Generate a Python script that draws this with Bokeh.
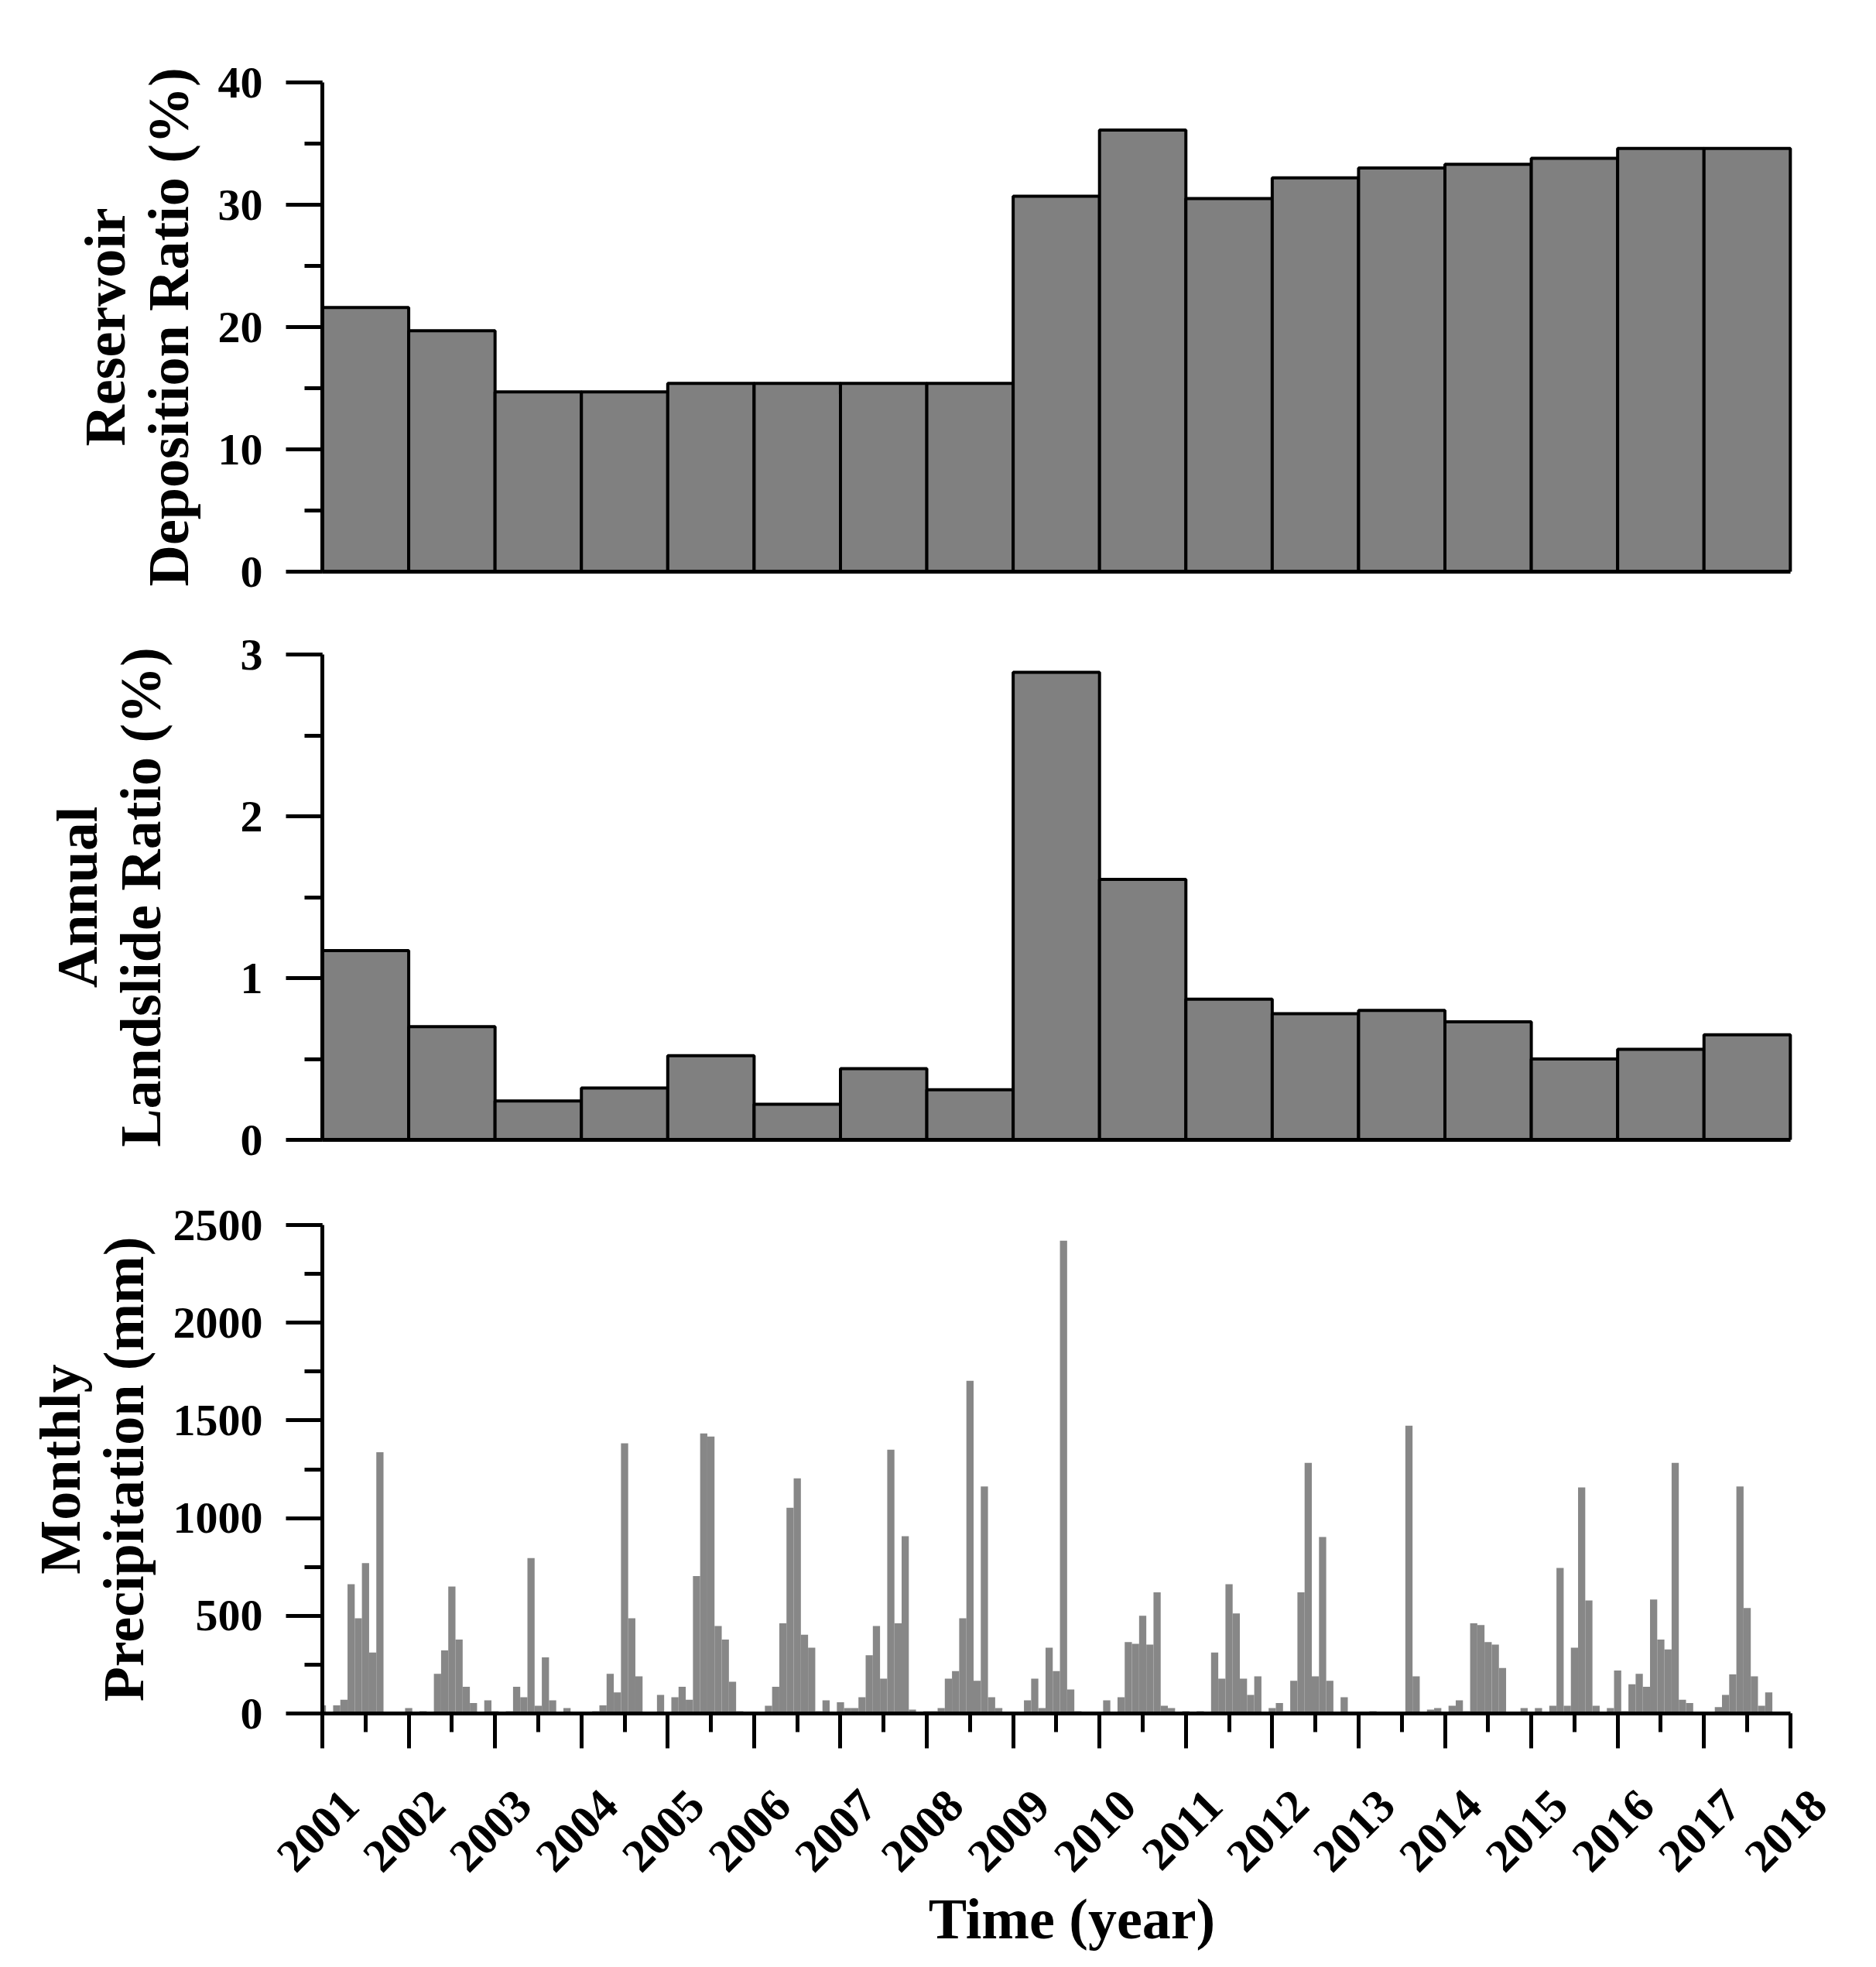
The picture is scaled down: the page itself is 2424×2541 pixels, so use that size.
import math
from bokeh.plotting import figure
from bokeh.layouts import column
from bokeh.models import (SingleIntervalTicker, FixedTicker, Range1d, ColumnDataSource,
                          LinearAxis)
from bokeh.embed import file_html
from bokeh.resources import INLINE

# ---------------- data ----------------
years = list(range(2001, 2018))
tick_years = list(range(2001, 2019))
deposition_ratio = [21.6, 19.7, 14.7, 14.7, 15.4, 15.4, 15.4, 15.4, 30.7, 36.1,
                    30.5, 32.2, 33.0, 33.3, 33.8, 34.6, 34.6]
landslide_ratio = [1.17, 0.70, 0.24, 0.32, 0.52, 0.22, 0.44, 0.31, 2.89, 1.61,
                   0.87, 0.78, 0.80, 0.73, 0.50, 0.56, 0.65]

# monthly precipitation (mm), Jan..Dec
precip_2001 = [42, 2, 42, 70, 662, 487, 770, 312, 1337, 2, 2, 2]
precip_2002 = [28, 2, 12, 2, 203, 323, 650, 378, 137, 53, 2, 67]
precip_2003 = [12, 2, 12, 137, 83, 795, 40, 287, 67, 3, 28, 5]
precip_2004 = [8, 10, 12, 42, 203, 108, 1383, 487, 190, 3, 3, 95]
precip_2005 = [3, 83, 137, 70, 703, 1433, 1417, 448, 378, 162, 12, 5]
precip_2006 = [5, 8, 40, 137, 462, 1053, 1203, 403, 337, 12, 67, 3]
precip_2007 = [57, 28, 28, 83, 298, 448, 178, 1350, 462, 907, 20, 5]
precip_2008 = [12, 12, 28, 178, 217, 487, 1703, 167, 1162, 83, 28, 5]
precip_2009 = [3, 5, 67, 178, 28, 337, 217, 2420, 123, 12, 5, 8]
precip_2010 = [10, 67, 3, 83, 365, 357, 500, 353, 620, 40, 28, 5]
precip_2011 = [12, 5, 12, 5, 312, 178, 662, 512, 178, 95, 190, 5]
precip_2012 = [28, 53, 12, 167, 620, 1283, 190, 903, 167, 3, 83, 5]
precip_2013 = [5, 8, 12, 5, 3, 3, 3, 1473, 190, 5, 20, 28]
precip_2014 = [8, 40, 67, 12, 462, 453, 365, 353, 233, 3, 3, 28]
precip_2015 = [5, 28, 5, 40, 745, 40, 337, 1157, 578, 40, 5, 28]
precip_2016 = [220, 12, 150, 203, 137, 583, 378, 328, 1283, 70, 53, 3]
precip_2017 = [3, 5, 33, 95, 200, 1162, 540, 190, 40, 108, 5, 3]

precip_by_year = [precip_2001, precip_2002, precip_2003, precip_2004, precip_2005,
                  precip_2006, precip_2007, precip_2008, precip_2009, precip_2010,
                  precip_2011, precip_2012, precip_2013, precip_2014, precip_2015,
                  precip_2016, precip_2017]

month_x, month_p = [], []
for y, vals in zip(years, precip_by_year):
    for m, v in enumerate(vals):
        month_x.append(y + m / 12.0)
        month_p.append(v)

# ---------------- styling ----------------
FONT = "Liberation Serif"
X0, X1 = 2001, 2018
X_PAD = 0.36                     # room right of 2018 for the last rotated label anchor
YEAR_PX = 1897 / 17.0
FRAME_W = int(round(YEAR_PX * (X1 - X0 + X_PAD)))
LEFT = 416
RIGHT = 60
LABEL_SHIFT = 0.33               # rotated labels are anchored at their right end


def base_axes(p, ylabel, y_interval, title_standoff):
    p.outline_line_color = None
    p.grid.visible = False
    p.background_fill_color = "white"
    p.border_fill_color = "white"
    for ax in p.axis:
        ax.axis_line_width = 5
        ax.axis_line_color = "black"
        ax.major_tick_line_width = 5
        ax.minor_tick_line_width = 5
        ax.major_tick_in = 0
        ax.minor_tick_in = 0
        ax.major_label_text_font = FONT
        ax.major_label_text_font_style = "bold"
        ax.major_label_text_font_size = "58px"
        ax.major_label_text_color = "black"
        ax.axis_label_text_font = FONT
        ax.axis_label_text_font_style = "bold"
        ax.axis_label_text_font_size = "74px"
        ax.axis_label_text_color = "black"
        ax.axis_label_text_line_height = 1.0
    ya = p.yaxis[0]
    ya.ticker = SingleIntervalTicker(interval=y_interval, num_minor_ticks=2)
    ya.major_tick_out = 47
    ya.minor_tick_out = 23
    ya.major_label_standoff = 30
    ya.axis_label = ylabel
    ya.axis_label_standoff = title_standoff
    xa = p.xaxis[0]
    xa.bounds = (X0, X1)


def hide_x(ax):
    ax.ticker = FixedTicker(ticks=[])
    ax.major_tick_out = 0
    ax.minor_tick_out = 0
    ax.major_label_text_color = None
    ax.major_label_standoff = 0


x_range = Range1d(X0, X1 + X_PAD)

# ---- top: reservoir deposition ratio ----
p1 = figure(x_range=x_range, y_range=Range1d(0, 40), frame_width=FRAME_W, frame_height=632,
            min_border_left=LEFT, min_border_right=RIGHT, min_border_top=106, min_border_bottom=50,
            output_backend="svg", toolbar_location=None)
src1 = ColumnDataSource(dict(left=years, right=[y + 1 for y in years], top=deposition_ratio))
p1.quad(left="left", right="right", bottom=0, top="top", source=src1,
        fill_color="#808080", line_color="black", line_width=4)
base_axes(p1, "Reservoir\nDeposition Ratio (%)", 10, 20)
hide_x(p1.xaxis[0])

# ---- middle: annual landslide ratio ----
p2 = figure(x_range=x_range, y_range=Range1d(0, 3), frame_width=FRAME_W, frame_height=627,
            min_border_left=LEFT, min_border_right=RIGHT, min_border_top=57, min_border_bottom=50,
            output_backend="svg", toolbar_location=None)
src2 = ColumnDataSource(dict(left=years, right=[y + 1 for y in years], top=landslide_ratio))
p2.quad(left="left", right="right", bottom=0, top="top", source=src2,
        fill_color="#808080", line_color="black", line_width=4)
base_axes(p2, "Annual\nLandslide Ratio (%)", 1, 85)
hide_x(p2.xaxis[0])

# ---- bottom: monthly precipitation ----
p3 = figure(x_range=x_range, y_range=Range1d(0, 2500), frame_width=FRAME_W, frame_height=631,
            min_border_left=LEFT, min_border_right=RIGHT, min_border_top=60, min_border_bottom=300,
            output_backend="svg", toolbar_location=None)
p3.extra_x_ranges = {"labels": Range1d(X0 - LABEL_SHIFT, X1 + X_PAD - LABEL_SHIFT)}
src3 = ColumnDataSource(dict(x=month_x, top=month_p))
p3.vbar(x="x", width=1 / 12.0, bottom=0, top="top", source=src3,
        fill_color="#878787", line_color=None)

lab_axis = LinearAxis(x_range_name="labels", ticker=FixedTicker(ticks=tick_years))
p3.add_layout(lab_axis, "below")
title_axis = LinearAxis()
p3.add_layout(title_axis, "below")
base_axes(p3, "Monthly\nPrecipitation (mm)", 500, 20)

# tick marks (no labels) on the main axis
xa = p3.xaxis[0]
xa.ticker = SingleIntervalTicker(interval=1, num_minor_ticks=2)
xa.major_tick_out = 45
xa.minor_tick_out = 24
xa.major_label_text_color = None
xa.major_label_text_font_size = "1px"
xa.major_label_standoff = 0

# year labels axis, rotated
lab_axis.bounds = "auto"
lab_axis.axis_line_color = None
lab_axis.major_tick_line_color = None
lab_axis.minor_tick_line_color = None
lab_axis.major_tick_out = 0
lab_axis.minor_tick_out = 0
lab_axis.major_label_orientation = math.pi / 4
lab_axis.major_label_text_font_size = "60px"
lab_axis.major_label_standoff = 64

# axis title
hide_x(title_axis)
title_axis.major_label_text_font_size = "1px"
title_axis.axis_line_color = None
title_axis.axis_label = "Time (year)"
title_axis.axis_label_standoff = 0

layout = column(p1, p2, p3)
open("out.html", "w").write(file_html(layout, INLINE))
